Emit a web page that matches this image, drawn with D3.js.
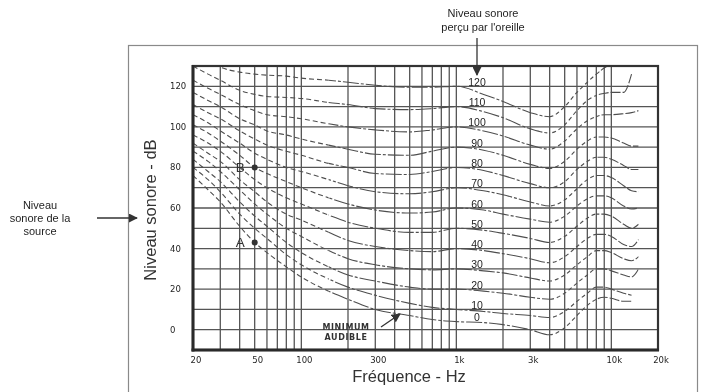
<!DOCTYPE html>
<html><head><meta charset="utf-8">
<script src="https://cdn.jsdelivr.net/npm/d3@7"></script>
<style>body{margin:0;background:#fff}svg{display:block;will-change:transform}text{opacity:0.999}</style>
</head><body>
<svg id="chart" width="702" height="392"></svg>
<script>
// ---- data ----
const freqs = [20,25,30,40,50,60,80,100,150,200,300,500,700,1000,1500,2000,3000,4000,5000,6000,7000,8000,9000,10000,12000,13500,15000];
const phonLevels = [0,10,20,30,40,50,60,70,80,90,100,110,120];
const c0   = [76,69,63,51,43,38,31,26,19,15,10,7,5,4,3.5,2.5,0,-2.5,1,7,12,15,16,15.5,14,14,null];
const c10  = [80,74,68,57,50,45,37,32,25,21,17,13,11,10,9,8,7,6,9,14,18,21,21,20,18,17,null];
const c20  = [84,78,73,63,56,51,43,38,31,27,24,21,20,20,19,18,16,15,18,23,27,30,30,29,27,26,30];
const c30  = [88,83,78,69,62,57,50,46,39,35,32,30,29.5,30,29,28,25.5,24,27,32,36,39,39,38,35,34,36];
const c40  = [92,87,83,74,68,63,57,54,48,44,41,39,38.5,40,39,37.5,35,33,36,41,45,47,47,46,42,41,44.5];
const c50  = [96,92,88,80,74,70,65,62,56.5,53,50,48,48,50,49,47.5,45,43,46,51,55,57,57,56,52,50,52];
const c60  = [101,97,93,86,80,77,73,70,65,62,59,57.5,58,60,59,57,54.5,53,56,61,64.5,66,66,65,61,59.5,60];
const c70  = [106,102,98,92,87,84,80,78,74,71,68,67,68,70,68.5,66.5,63,61,64,69.5,74,76,76,75,71,68.5,68];
const c80  = [111,107,104,98,94,91,88,86,82,80,77,76.5,78,80,78.5,76,72,70,73,79,83,85,85,84,81,79,79];
const c90  = [117,113,110,104,101,98,96,94,91,89,86.5,86,88,90,88.5,86,81.5,79.5,83,89,93,95,95,94.5,92,90.5,90.5];
const c100 = [123,119,116,111,108,106,105,104,101.5,100,98.5,97.5,98.5,100,98,95.5,91,89,93,99,103,105,106,106,106.5,107,108];
const c110 = [130,126,123,118,116,115,114.5,114,112,111,109,108.5,109,110,107.5,104.5,99,97,101,108,113,115.5,116.5,117,117,126,null];
const c120 = [null,133,129.5,127,126,125.5,125,124,123,122,120.5,119.5,119.5,120,116,112.5,107,105,110,117,122,126,129,131,null,null,null];
const contours = [c0,c10,c20,c30,c40,c50,c60,c70,c80,c90,c100,c110,c120];

const gridFreqs = [30,40,50,60,70,80,90,100,200,300,400,500,600,700,800,900,1000,2000,3000,4000,5000,6000,7000,8000,9000,10000];
const gridLevels = [0,10,20,30,40,50,60,70,80,90,100,110,120];
const yTickValues = [0,20,40,60,80,100,120];
const xTickValues = [20,50,100,300,1000,3000,10000,20000];
const xTickLabels = ["20","50","100","300","1k","3k","10k","20k"];
const points = [{f:50, db:80, label:"B"}, {f:50, db:43, label:"A"}];

// ---- drawing ----
const svg = d3.select("#chart");
const defs = svg.append("defs");
const x = d3.scaleLog().domain([20,20000]).range([193,658]);
const y = d3.scaleLinear().domain([-10,130]).range([350,66]);
const L = 193, R = 658, T = 66, B = 350;
const ink = "#1e1e1e";

// outer frame
svg.append("rect").attr("x",128.5).attr("y",45.5).attr("width",569).attr("height",360)
  .attr("fill","none").attr("stroke","#8a8a8a").attr("stroke-width",1.2);

defs.append("clipPath").attr("id","clip")
  .append("rect").attr("x",L).attr("y",T).attr("width",R-L).attr("height",B-T);

const grid = svg.append("g").attr("stroke","#555").attr("stroke-width",1.3);
grid.selectAll("line.v").data(gridFreqs).join("line")
  .attr("x1",d=>x(d)).attr("x2",d=>x(d)).attr("y1",T).attr("y2",B);
grid.selectAll("line.h").data(gridLevels).join("line")
  .attr("y1",d=>y(d)).attr("y2",d=>y(d)).attr("x1",L).attr("x2",R);

// curves
const line = d3.line().defined(d=>d[1]!==null).x(d=>x(d[0])).y(d=>y(d[1])).curve(d3.curveMonotoneX);
const curvesG = svg.append("g").attr("clip-path","url(#clip)").attr("fill","none").attr("stroke","#4e4e4e").attr("stroke-width",1.1);
const segs = [
  {lo:20, hi:150, dash:"5,3"},
  {lo:150, hi:4000, dash:"16,2,3,2"},
  {lo:4000, hi:8000, dash:"4,3"},
  {lo:8000, hi:15000, dash:"10,2"}
];
segs.forEach((s,k)=>{
  defs.append("clipPath").attr("id","seg"+k).append("rect")
    .attr("x",x(s.lo)).attr("y",0).attr("width",x(s.hi)-x(s.lo)).attr("height",400);
});
contours.forEach(c=>{
  const d = line(freqs.map((f,i)=>[f,c[i]]));
  segs.forEach((s,k)=>{
    curvesG.append("g").attr("clip-path","url(#seg"+k+")").append("path")
      .attr("d",d).attr("stroke-dasharray",s.dash);
  });
});

// plot border
svg.append("rect").attr("x",L).attr("y",T).attr("width",R-L).attr("height",B-T)
  .attr("fill","none").attr("stroke","#333").attr("stroke-width",2.2);
svg.append("line").attr("x1",L).attr("x2",L).attr("y1",T-1).attr("y2",B+1.5).attr("stroke","#2a2a2a").attr("stroke-width",3);
svg.append("line").attr("x1",L-1.5).attr("x2",R+1).attr("y1",B).attr("y2",B).attr("stroke","#2a2a2a").attr("stroke-width",3);

// tick labels
const tickFont = "'DejaVu Sans', sans-serif";
svg.append("g").selectAll("text").data(yTickValues).join("text")
  .attr("x",170).attr("y",d=>y(d)+3).attr("font-family",tickFont).attr("font-size",8.5)
  .attr("fill",ink).text(d=>d);
svg.append("g").selectAll("text").data(xTickValues).join("text")
  .attr("x",d=>x(d)+3).attr("y",363).attr("text-anchor","middle").attr("font-family",tickFont)
  .attr("font-size",8.5).attr("fill",ink).text((d,i)=>xTickLabels[i]);

// curve labels at 1 kHz
const i1k = freqs.indexOf(1000);
svg.append("g").selectAll("text").data(phonLevels).join("text")
  .attr("x",477).attr("y",(d,i)=>y(contours[i][i1k])-0.5).attr("text-anchor","middle")
  .attr("font-family","'Liberation Sans', Arial, sans-serif").attr("font-size",10.5).attr("fill",ink)
  .text(d=>d);

// points A and B
svg.append("g").selectAll("circle").data(points).join("circle")
  .attr("cx",d=>x(d.f)).attr("cy",d=>y(d.db)).attr("r",3).attr("fill","#333");
svg.append("g").selectAll("text").data(points).join("text")
  .attr("x",d=>x(d.f)-19).attr("y",d=>y(d.db)+5).attr("font-family","'Liberation Sans', Arial, sans-serif")
  .attr("font-size",13.5).attr("fill","#333").text(d=>d.label);

// axis titles
svg.append("text").attr("x",409).attr("y",382).attr("text-anchor","middle")
  .attr("font-family","'Liberation Sans', Arial, sans-serif").attr("font-size",16.5).attr("fill","#333")
  .text("Fréquence - Hz");
svg.append("text").attr("transform","translate(156,210) rotate(-90)").attr("text-anchor","middle")
  .attr("font-family","'Liberation Sans', Arial, sans-serif").attr("font-size",16.5).attr("fill","#333")
  .text("Niveau sonore - dB");

// arrow marker
defs.append("marker").attr("id","ah").attr("viewBox","0 0 10 10").attr("refX",9).attr("refY",5)
  .attr("markerWidth",9).attr("markerHeight",9).attr("markerUnits","userSpaceOnUse").attr("orient","auto")
  .append("path").attr("d","M0,0L10,5L0,10Z").attr("fill","#333");

// top annotation
const annFont = "'Liberation Sans', Arial, sans-serif";
svg.append("text").attr("x",483).attr("y",17).attr("text-anchor","middle").attr("font-family",annFont)
  .attr("font-size",11).attr("fill",ink).text("Niveau sonore");
svg.append("text").attr("x",483).attr("y",31).attr("text-anchor","middle").attr("font-family",annFont)
  .attr("font-size",11).attr("fill",ink).text("perçu par l'oreille");
svg.append("line").attr("x1",477).attr("x2",477).attr("y1",38).attr("y2",75)
  .attr("stroke","#333").attr("stroke-width",1.3).attr("marker-end","url(#ah)");

// left annotation
[["Niveau",209],["sonore de la",222],["source",235]].forEach(([t,yy])=>{
  svg.append("text").attr("x",40).attr("y",yy).attr("text-anchor","middle").attr("font-family",annFont)
    .attr("font-size",11).attr("fill",ink).text(t);
});
svg.append("line").attr("x1",97).attr("x2",137).attr("y1",218).attr("y2",218)
  .attr("stroke","#333").attr("stroke-width",1.3).attr("marker-end","url(#ah)");

// minimum audible
[["MINIMUM",330],["AUDIBLE",340]].forEach(([t,yy])=>{
  svg.append("text").attr("x",346).attr("y",yy).attr("text-anchor","middle").attr("font-family","'DejaVu Sans', sans-serif")
    .attr("font-size",8).attr("font-weight","bold").attr("letter-spacing",0.6).attr("fill","#333").text(t);
});
svg.append("line").attr("x1",381).attr("x2",400).attr("y1",327).attr("y2",314)
  .attr("stroke","#333").attr("stroke-width",1.3).attr("marker-end","url(#ah)");
</script>
</body></html>
